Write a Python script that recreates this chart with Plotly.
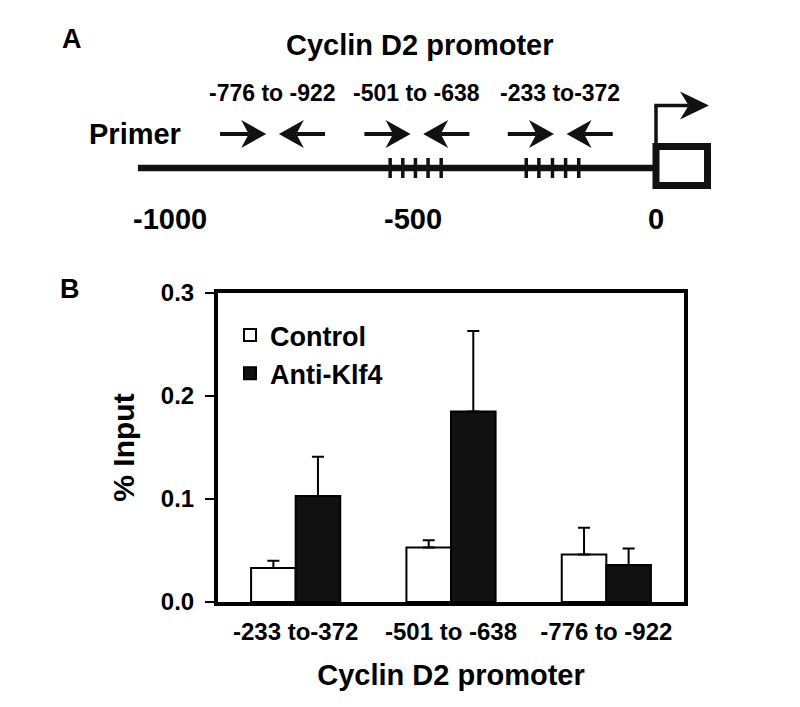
import plotly.graph_objects as go

# B: ChIP signal (% input) at the three primer regions
regions = ['-233 to-372', '-501 to -638', '-776 to -922']
control = [0.033, 0.053, 0.046]
control_err = [0.007, 0.007, 0.026]
klf4 = [0.103, 0.185, 0.036]
klf4_err = [0.038, 0.078, 0.016]
y_ticks = [0.0, 0.1, 0.2, 0.3]

# A: promoter map (bp from start site, as drawn), primer pairs in the same order as regions
primer_pos = [-197, -492, -789]
klf4_sites = [-547, -521, -495, -469, -442, -267, -241, -213, -186, -159]
map_ticks = [-1000, -500, 0]
map_start = -1066

# the page body has an 8px margin, so the figure is 792x699 and page px are shifted by 8
OFF = 8
W, H = 800 - OFF, 707 - OFF
FONT = 'Liberation Sans, Arial, sans-serif'
INK = '#111111'

def fx(p):
	return (p - OFF) / W

def fy(p):
	return 1 - (p - OFF) / H

def bold(size):
	return dict(family=FONT, size=size, color='black', weight='bold')

# map axis: 0 bp sits at page x=656, 0.486 px per bp; y2 units are px above the DNA line (page y=168)
bp_px = 0.486
zero_px = 656
line_px = 168
x2_range = [(OFF - zero_px) / bp_px, (OFF + W - zero_px) / bp_px]
y2_range = [-(250 - line_px), line_px - OFF]

fig = go.Figure()

fig.add_trace(go.Bar(
	x=regions, y=control, name='Control',
	marker=dict(color='white', line=dict(color='black', width=2)),
	error_y=dict(type='data', symmetric=False, array=control_err,
		arrayminus=[0] * len(control), color='black', thickness=2, width=6),
))
fig.add_trace(go.Bar(
	x=regions, y=klf4, name='Anti-Klf4',
	marker=dict(color=INK, line=dict(color='black', width=2)),
	error_y=dict(type='data', symmetric=False, array=klf4_err,
		arrayminus=[0] * len(klf4), color='black', thickness=2, width=6),
))

def map_lines(xs, ys, width):
	fig.add_trace(go.Scatter(
		x=xs, y=ys, mode='lines', line=dict(color=INK, width=width),
		xaxis='x2', yaxis='y2', showlegend=False, hoverinfo='skip',
	))

# DNA line
map_lines([map_start, 0], [0, 0], 6.5)

# binding sites
hx, hy = [], []
for s in klf4_sites:
	hx += [s, s, None]
	hy += [-10, 10, None]
map_lines(hx, hy, 3.5)

shapes = []

def arrow(x_tip, x_tail, y, width, head_len, head_half):
	# shaft through the axis, filled head as a path in the same coords
	d = 1 if x_tip > x_tail else -1
	hl = head_len / bp_px
	notch = x_tip - d * hl * 0.7
	map_lines([x_tail, notch], [y, y], width)
	back = x_tip - d * hl
	shapes.append(dict(
		type='path', xref='x2', yref='y2',
		path=f'M{x_tip},{y} L{back},{y + head_half} L{notch},{y} L{back},{y - head_half} Z',
		fillcolor=INK, line=dict(width=0),
	))

annotations = []

def label(x, y, text, size, ref='paper'):
	r = 'paper' if ref == 'paper' else ref
	annotations.append(dict(x=x, y=y, xref=r if ref == 'paper' else 'x2', yref=r if ref == 'paper' else 'y2',
		text=text, showarrow=False, xanchor='center', yanchor='middle', font=bold(size)))

for name, pos in zip(regions, primer_pos):
	arrow(pos - 13, pos - 108, 34, 4, 25, 14)
	arrow(pos + 13, pos + 108, 34, 4, 25, 14)
	label(pos, 75, name, 23, ref='map')

# first exon box and start site
shapes.append(dict(type='rect', xref='x2', yref='y2', x0=0, x1=106, y0=-17.5, y1=21.5,
	line=dict(color=INK, width=7), fillcolor='white'))
map_lines([0, 0], [21.5, 62.5], 3.5)
arrow(109, -3.5, 62.5, 3.5, 29, 14)

for t in map_ticks:
	label(t, -51, str(t), 29, ref='map')

label(fx(72), fy(39), 'A', 27)
label(fx(420), fy(45), 'Cyclin D2 promoter', 29)
label(fx(135), fy(134), 'Primer', 29)
label(fx(70), fy(289), 'B', 27)

fig.update_layout(
	width=W, height=H,
	margin=dict(l=0, r=0, t=0, b=0),
	paper_bgcolor='white', plot_bgcolor='rgba(0,0,0,0)',
	font=dict(family=FONT, color='black'),
	barmode='group', bargap=0.426, bargroupgap=0,
	showlegend=True,
	legend=dict(x=fx(230), y=fy(311), xanchor='left', yanchor='top',
		bgcolor='rgba(0,0,0,0)', font=bold(27), tracegroupgap=0),
	xaxis=dict(
		domain=[fx(218), fx(684)], anchor='y', type='category', range=[-0.5, 2.5],
		automargin=False,
		showline=True, mirror=True, linewidth=4, linecolor='black',
		ticks='', tickfont=bold(24), ticklabelstandoff=5,
		showgrid=False, zeroline=False,
		title=dict(text='Cyclin D2 promoter', font=bold(29), standoff=22),
	),
	yaxis=dict(
		domain=[fy(602), fy(293)], anchor='x', range=[0, 0.3],
		automargin=False,
		tickvals=y_ticks, tickformat='.1f',
		ticks='outside', ticklen=9, tickwidth=2, tickcolor='black',
		tickfont=bold(24), ticklabelstandoff=6,
		showline=True, mirror=True, linewidth=4, linecolor='black',
		showgrid=False, zeroline=False,
		title=dict(text='% Input', font=bold(30), standoff=18),
	),
	xaxis2=dict(domain=[0, 1], anchor='y2', range=x2_range, visible=False, automargin=False),
	yaxis2=dict(domain=[fy(250), 1], anchor='x2', range=y2_range, visible=False, automargin=False),
	shapes=shapes,
	annotations=annotations,
)

fig.write_html('out.html')
